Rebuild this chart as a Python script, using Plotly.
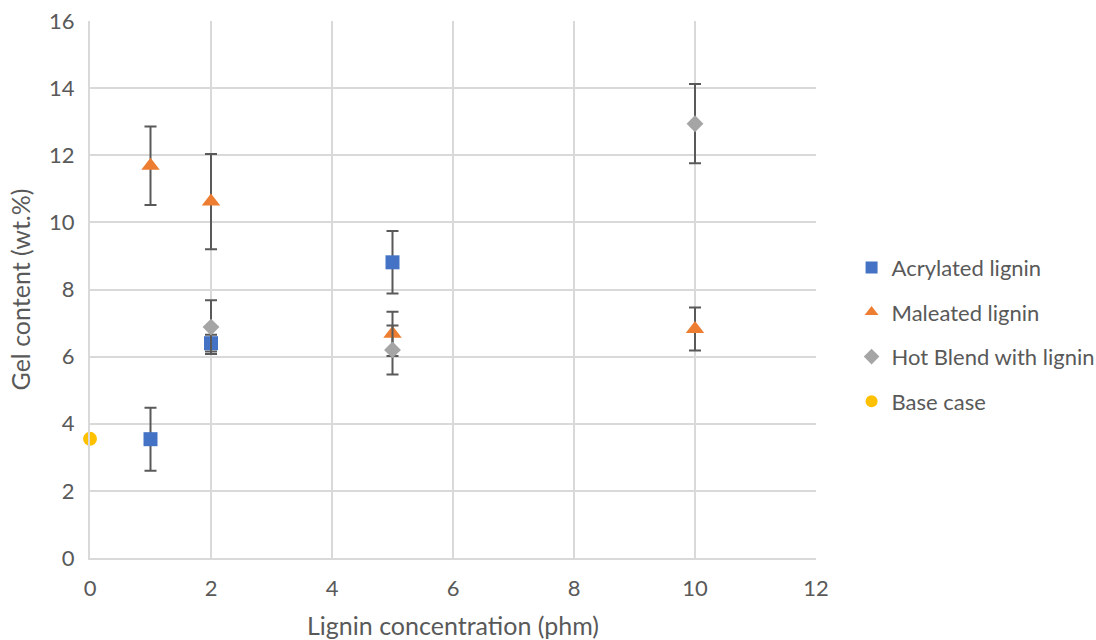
import plotly.graph_objects as go

# Gel content vs lignin concentration
acr_x = [1, 2, 5]
acr_y = [3.54, 6.40, 8.81]
acr_err = [0.94, 0.25, 0.93]

mal_x = [1, 2, 5, 10]
mal_y = [11.69, 10.62, 6.68, 6.82]
mal_err = [1.17, 1.42, 0.66, 0.64]

hot_x = [2, 5, 10]
hot_y = [6.88, 6.20, 12.94]
hot_err = [0.80, 0.73, 1.18]

base_x = [0]
base_y = [3.55]

FONT = "Lato"
TXT = "#595959"
ERRC = "#595959"

fig = go.Figure()

def err(vals):
    return dict(type="data", array=vals, visible=True, color=ERRC, thickness=2, width=6)

fig.add_trace(go.Scatter(
    x=acr_x, y=acr_y, mode="markers", name="Acrylated lignin", legendgroup="a",
    marker=dict(symbol="square", size=14, color="#4472c4"),
    error_y=err(acr_err)))
fig.add_trace(go.Scatter(
    x=mal_x, y=mal_y, mode="markers", name="Maleated lignin", legendgroup="b",
    marker=dict(symbol="triangle-up", size=16, color="#ed7d31"),
    error_y=err(mal_err)))
fig.add_trace(go.Scatter(
    x=hot_x, y=hot_y, mode="markers", name="Hot Blend with lignin", legendgroup="c",
    marker=dict(symbol="diamond", size=13, color="#a5a5a5"),
    error_y=err(hot_err)))
fig.add_trace(go.Scatter(
    x=base_x, y=base_y, mode="markers", name="Base case", legendgroup="d",
    marker=dict(symbol="circle", size=14, color="#ffc000"),
    cliponaxis=False))

fig.update_layout(
    width=1096, height=640,
    margin=dict(l=90, r=280, t=21, b=82, autoexpand=False),
    paper_bgcolor="white", plot_bgcolor="white",
    font=dict(family=FONT, size=22, color=TXT),
    legend=dict(x=1.049, y=0.416, xanchor="left", yanchor="middle",
                font=dict(family=FONT, size=22, color=TXT),
                tracegroupgap=13, itemsizing="constant"),
    xaxis=dict(range=[0, 12], dtick=2, showgrid=True, gridcolor="#d9d9d9", gridwidth=2,
               showline=True, linecolor="#d9d9d9", linewidth=2, zeroline=False,
               ticks="", ticklabelstandoff=10, automargin=False,
               tickfont=dict(family=FONT, size=22, color=TXT),
               title=dict(text="Lignin concentration (phm)", standoff=31,
                          font=dict(family=FONT, size=25, color=TXT))),
    yaxis=dict(range=[0, 16], dtick=2, showgrid=True, gridcolor="#d9d9d9", gridwidth=2,
               showline=True, linecolor="#d9d9d9", linewidth=2, zeroline=False,
               ticks="", ticklabelstandoff=9, automargin=False,
               tickfont=dict(family=FONT, size=22, color=TXT),
               title=dict(text="Gel content (wt.%)", standoff=11,
                          font=dict(family=FONT, size=25, color=TXT))),
)

fig.write_html("out.html")
